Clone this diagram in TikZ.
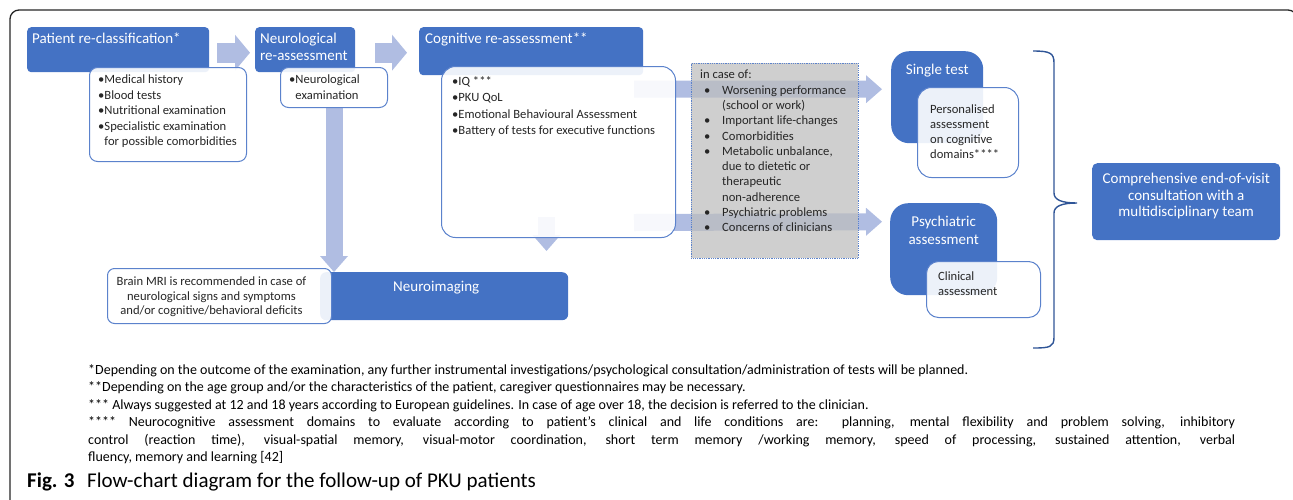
\documentclass[tikz,border=0pt]{standalone}
\usepackage{fontspec}
\setmainfont{Carlito}
\usetikzlibrary{arrows.meta,backgrounds}

\definecolor{hdrblue}{HTML}{4472C4}
\definecolor{lineblue}{HTML}{5B82CC}
\definecolor{flowblue}{HTML}{B0BDE2}
\definecolor{bracecol}{HTML}{2F5597}
\definecolor{casegrey}{HTML}{BDBDBD}
\definecolor{txtgrey}{HTML}{262626}

\newcommand\hdfont{\fontsize{15}{16.5}\selectfont}
\newcommand\bdfont{\fontsize{12.6}{15.5}\selectfont}
\newcommand\caseitem{\hspace*{4pt}\makebox[18pt][l]{\textbullet}}
\newcommand\casecont{\hspace*{22pt}}

\begin{document}
\begin{tikzpicture}[
  x=1pt,y=-1pt,
  hdr/.style={fill=hdrblue,rounded corners=4pt,anchor=north west,inner sep=0pt},
  cardbox/.style={fill=hdrblue,rounded corners=18pt,anchor=north west,inner sep=0pt},
  note/.style={draw=lineblue,line width=1pt,fill=white,fill opacity=0.9,
               rounded corners=8pt,anchor=north west,inner sep=0pt},
  casebox/.style={draw=lineblue,densely dotted,line width=0.8pt,fill=casegrey,
                  fill opacity=0.72,anchor=north west,inner sep=0pt},
  hdrtext/.style={inner sep=0pt,text=white,font=\hdfont,align=left},
  notetext/.style={anchor=north west,inner sep=0pt,text=txtgrey,font=\bdfont,align=left},
  flow/.style={draw=flowblue,line width=20pt,
               -{Triangle[length=15pt,width=36pt,line width=0pt]}},
  flowthin/.style={draw=flowblue,line width=17pt,
                   -{Triangle[length=16pt,width=28pt,line width=0pt]}},
]
\useasboundingbox (0,0) rectangle (1293,499);

% ---- assessment steps ---------------------------------------------------
\node[hdr,minimum width=182pt,minimum height=45pt] (pr) at (27,27) {};
\node[hdrtext,anchor=north west] (prt) at ([shift={(5,6)}]pr.north west)
  {Patient re-classification*};
\node[hdr,minimum width=100pt,minimum height=45pt] (nr) at (255,27) {};
\node[hdrtext,anchor=north west] (nrt) at ([shift={(5,6)}]nr.north west)
  {Neurological\\re-assessment};
\node[hdr,minimum width=224pt,minimum height=48pt] (cr) at (419,27) {};
\node[hdrtext,anchor=north west] (crt) at ([shift={(6,6)}]cr.north west)
  {Cognitive re-assessment**};

\node[note,minimum width=157pt,minimum height=94pt] (prn) at (89,67) {};
\node[notetext] (prnl) at ([shift={(9,8)}]prn.north west)
  {\textbullet Medical history\\
   \textbullet Blood tests\\
   \textbullet Nutritional examination\\
   \textbullet Specialistic examination\\
   \phantom{\textbullet}for possible comorbidities};
\node[note,minimum width=107pt,minimum height=40pt] (nrn) at (280,67) {};
\node[notetext] (nrnl) at ([shift={(9,8)}]nrn.north west)
  {\textbullet Neurological\\\phantom{\textbullet}examination};
\node[note,rounded corners=14pt,minimum width=234pt,minimum height=171pt] (crn) at (441,66) {};
\node[notetext,font=\fontsize{12.6}{16.5}\selectfont] (crnl) at ([shift={(11,10)}]crn.north west)
  {\textbullet IQ ***\\
   \textbullet PKU QoL\\
   \textbullet Emotional Behavioural Assessment\\
   \textbullet Battery of tests for executive functions};

% ---- triggers -----------------------------------------------------------
\node[casebox,minimum width=167pt,minimum height=195pt] (cases) at (691,63) {};
\node[notetext,font=\fontsize{12.6}{15.3}\selectfont] (casel) at ([shift={(9,7)}]cases.north west)
  {in case of:\\
   \caseitem Worsening performance\\
   \casecont (school or work)\\
   \caseitem Important life-changes\\
   \caseitem Comorbidities\\
   \caseitem Metabolic unbalance,\\
   \casecont due to dietetic or\\
   \casecont therapeutic\\
   \casecont non-adherence\\
   \caseitem Psychiatric problems\\
   \caseitem Concerns of clinicians};

% ---- follow-up ----------------------------------------------------------
\node[cardbox,minimum width=92pt,minimum height=92pt] (sgl) at (891,51) {};
\node[hdrtext,anchor=north] (sglt) at ([shift={(0,13)}]sgl.north) {Single test};
\node[note,rounded corners=14pt,minimum width=101pt,minimum height=90pt] (sgln) at (917,87) {};
\node[notetext,font=\fontsize{12.6}{15}\selectfont] (sglnl) at ([shift={(13,18)}]sgln.north west)
  {Personalised\\assessment\\on cognitive\\domains****};

\node[cardbox,minimum width=107pt,minimum height=92pt] (psy) at (890,203) {};
\node[hdrtext,anchor=north,align=center,font=\fontsize{15}{18}\selectfont] (psyt)
  at ([shift={(0,13)}]psy.north) {Psychiatric\\assessment};
\node[note,rounded corners=12pt,minimum width=114pt,minimum height=56pt] (psyn) at (926,261) {};
\node[notetext,font=\fontsize{12.6}{15}\selectfont] (psynl) at ([shift={(12,11)}]psyn.north west)
  {Clinical\\assessment};

\node[hdr,rounded corners=5pt,minimum width=188pt,minimum height=77pt] (comp) at (1092,163) {};
\node[hdrtext,anchor=north,align=center] (compt) at ([shift={(0,10)}]comp.north)
  {Comprehensive end-of-visit\\consultation with a\\multidisciplinary team};

% ---- neuroimaging -------------------------------------------------------
\node[hdr,rounded corners=6pt,minimum width=248pt,minimum height=48pt] (nimg) at (320,272) {};
\node[hdrtext,anchor=north] (nimgt) at ([shift={(-8,9)}]nimg.north) {Neuroimaging};
\node[note,rounded corners=7pt,minimum width=224pt,minimum height=55pt] (mri) at (107,268) {};
\node[notetext,anchor=north,align=center,font=\fontsize{12.6}{14.5}\selectfont] (mril)
  at ([shift={(-8,9)}]mri.north)
  {Brain MRI is recommended in case of\\neurological signs and symptoms\\and/or cognitive/behavioral deficits};

% brace towards the closing consultation
\draw[bracecol,line width=1.4pt] (1033,51) .. controls (1050,51) and (1054,53) .. (1054,63)
  -- (1054,193) .. controls (1054,200) and (1062,203) .. (1077,203)
  .. controls (1062,203) and (1054,206) .. (1054,213)
  -- (1054,337) .. controls (1054,347) and (1050,348) .. (1033,348);

% ---- footnotes and caption ----------------------------------------------
\node[anchor=north west,inner sep=0pt,text width=1147pt,align=justify,
      font=\fontsize{14}{17.5}\selectfont] (notes) at (88,364)
  {*Depending on the outcome of the examination, any further instrumental investigations/psychological consultation/administration of tests will be planned.\\{}
   **Depending on the age group and/or the characteristics of the patient, caregiver questionnaires may be necessary.\\{}
   *** Always suggested at 12 and 18 years according to European guidelines. In case of age over 18, the decision is referred to the clinician.\\{}
   **** Neurocognitive assessment domains to evaluate according to patient’s clinical and life conditions are: planning, mental flexibility and problem solving, inhibitory\linebreak
   control (reaction time), visual-spatial memory, visual-motor coordination, short term memory /working memory, speed of processing, sustained attention, verbal\linebreak
   fluency, memory and learning [42]};
\node[anchor=base west,inner sep=0pt,font=\fontsize{21}{24}\selectfont\bfseries] (figno)
  at (27,487) {Fig. 3};
\node[anchor=base west,inner sep=0pt,font=\fontsize{21}{24}\selectfont] (figcap)
  at (87,487) {Flow-chart diagram for the follow-up of PKU patients};

% ---- frame and block arrows, behind the boxes ---------------------------
\begin{scope}[on background layer]
\draw[black!85,line width=1.3pt,rounded corners=9pt] (10,505) -- (10,10) -- (1297,10) -- (1297,505);
\draw[flow] ([shift={(8,3)}]pr.east) -- ([shift={(-5,3)}]nr.west);
\draw[flow] ([shift={(20,3)}]nr.east) -- ([shift={(-12,1.5)}]cr.west);
\draw[flowthin] ([shift={(-42,23)}]crn.north east) -- ([shift={(-9,-8)}]sgl.west);
\draw[flowthin] ([shift={(-42,-15.5)}]crn.south east) -- ([shift={(-8,-27.5)}]psy.west);
\draw[flowthin] (nrn.south) -- (nrn.south |- nimg.north);
\draw[flowthin] ([shift={(105.5,-21)}]crn.south west) -- ([shift={(105.5,-21)}]crn.south west |- nimg.north);
\end{scope}
\end{tikzpicture}
\end{document}
